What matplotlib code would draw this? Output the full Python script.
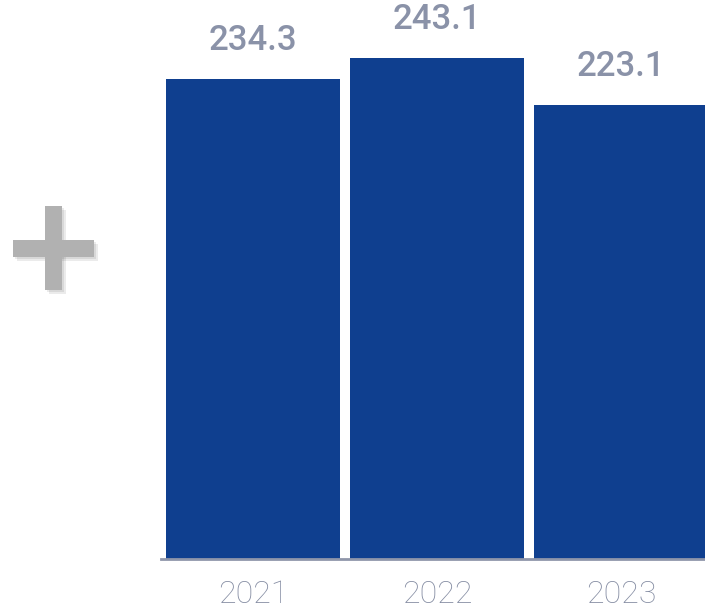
import matplotlib.pyplot as plt
from matplotlib.patches import Rectangle

years = ['2021', '2022', '2023']
values = [234.3, 243.1, 223.1]

bar_color = '#0f3f8f'
label_color = '#8a92a8'

fig = plt.figure(figsize=(7.05, 6.16), dpi=100)
ax = fig.add_axes([161 / 705, 1 - 559 / 616, 544 / 705, 559 / 616])

x = range(len(years))
bars = ax.bar(x, values, width=0.946, color=bar_color, bottom=0)
ax.set_xlim(-0.5, 2.457)
ax.set_ylim(28.7, 268.1)

# value labels above bars
for rect, v in zip(bars, values):
	ax.annotate(f"{v}", (rect.get_x() + rect.get_width() / 2, v),
		xytext=(0, 16), textcoords='offset points', ha='center', va='bottom',
		fontsize=25, fontfamily='Roboto', fontweight='medium', color=label_color)

ax.set_xticks(list(x))
ax.set_xticklabels(years, fontsize=23, fontfamily='Roboto', fontweight='light', color='#848ca2')
ax.tick_params(axis='x', length=0, pad=15)
ax.set_yticks([])
for side in ['left', 'right', 'top']:
	ax.spines[side].set_visible(False)
ax.spines['bottom'].set_color('#8f96aa')
ax.spines['bottom'].set_linewidth(2)

# decorative plus sign with soft shadow (figure pixel coords)
def px(x0, y0, w, h):
	return (x0 / 705, 1 - (y0 + h) / 616), w / 705, h / 616

for dx, dy, col, a in [(4, 4, '#000000', 0.08), (2, 2, '#000000', 0.08), (0, 0, '#b1b1b1', 1.0)]:
	for (x0, y0, w, h) in [(45, 206, 17, 84), (13, 240, 81, 17)]:
		xy, ww, hh = px(x0 + dx, y0 + dy, w, h)
		fig.patches.append(Rectangle(xy, ww, hh, transform=fig.transFigure,
			facecolor=col, alpha=a, edgecolor='none'))

plt.savefig('out.png', dpi=100)
plt.close()
